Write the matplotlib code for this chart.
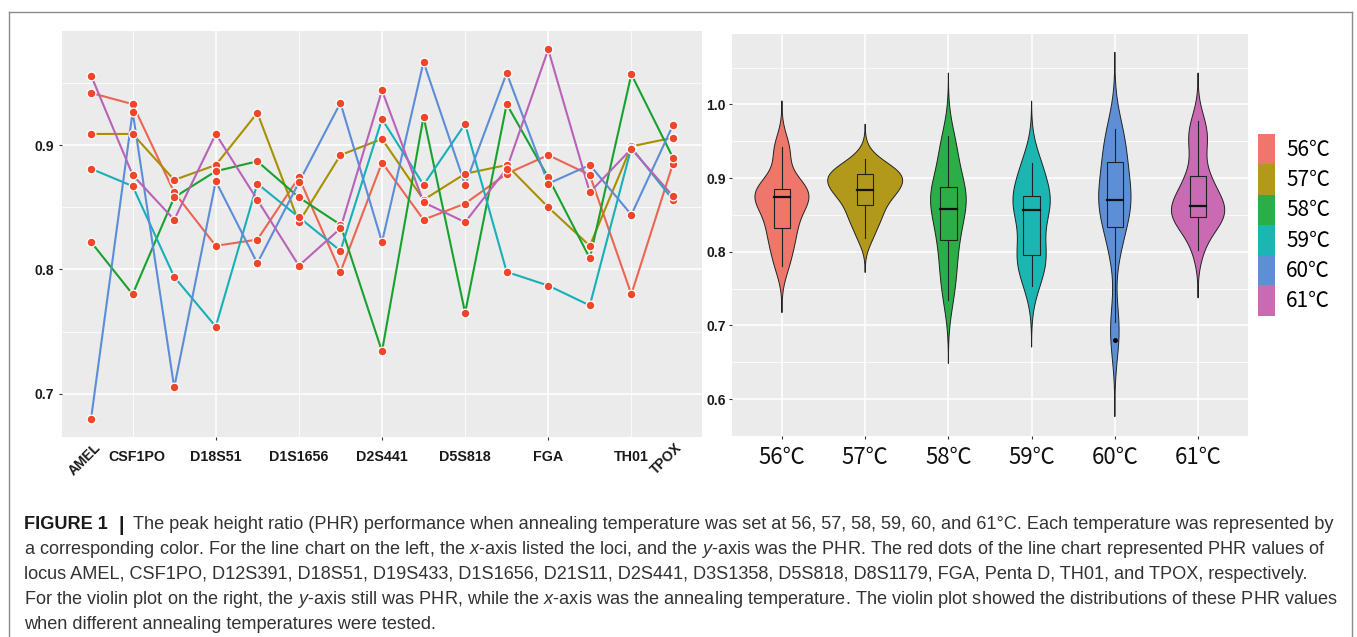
import numpy as np
import matplotlib
matplotlib.use("Agg")
import matplotlib.pyplot as plt
from matplotlib.patches import Patch, Polygon, Rectangle
from matplotlib.lines import Line2D
import matplotlib.transforms as mtransforms

plt.rcParams["font.family"] = ["Liberation Sans", "Noto Sans CJK SC", "DejaVu Sans"]
plt.rcParams["mathtext.fontset"] = "custom"
plt.rcParams["mathtext.it"] = "Liberation Sans:italic"
plt.rcParams["mathtext.rm"] = "Liberation Sans"

# ---------------- data ----------------
loci = ["AMEL", "CSF1PO", "D12S391", "D18S51", "D19S433", "D1S1656", "D21S11",
        "D2S441", "D3S1358", "D5S818", "D8S1179", "FGA", "Penta D", "TH01", "TPOX"]
shown_loci = ["AMEL", "CSF1PO", "D18S51", "D1S1656", "D2S441", "D5S818", "FGA", "TH01", "TPOX"]
rotated_loci = ["AMEL", "TPOX"]
temps = ["56℃", "57℃", "58℃", "59℃", "60℃", "61℃"]

phr_56 = [0.942, 0.933, 0.862, 0.819, 0.824, 0.874, 0.798, 0.886, 0.840, 0.853, 0.877, 0.892, 0.876, 0.780, 0.885]
phr_57 = [0.909, 0.909, 0.872, 0.884, 0.926, 0.838, 0.892, 0.905, 0.856, 0.877, 0.884, 0.850, 0.819, 0.899, 0.906]
phr_58 = [0.822, 0.780, 0.858, 0.879, 0.887, 0.858, 0.836, 0.734, 0.923, 0.765, 0.933, 0.874, 0.809, 0.957, 0.890]
phr_59 = [0.881, 0.867, 0.794, 0.754, 0.869, 0.842, 0.815, 0.921, 0.868, 0.917, 0.798, 0.787, 0.771, 0.898, 0.856]
phr_60 = [0.680, 0.927, 0.705, 0.871, 0.805, 0.870, 0.934, 0.822, 0.967, 0.868, 0.958, 0.869, 0.884, 0.844, 0.916]
phr_61 = [0.956, 0.876, 0.840, 0.909, 0.856, 0.803, 0.833, 0.944, 0.854, 0.838, 0.881, 0.977, 0.862, 0.897, 0.859]
series = [phr_56, phr_57, phr_58, phr_59, phr_60, phr_61]

line_colors = ["#EC6552", "#A99000", "#17A22E", "#17B0B8", "#5B8DD9", "#B862B8"]
fill_colors = ["#EF766B", "#B2981B", "#2BAE48", "#1CB6B2", "#5E8ED6", "#C96AB2"]
point_color = "#F0472A"
panel_bg = "#EBEBEB"
cjk = ["Noto Sans CJK SC", "Liberation Sans"]

W, H = 1357, 637
fig = plt.figure(figsize=(W / 100, H / 100), dpi=100)
fig.patch.set_facecolor("white")


def px_axes(x0, y0, x1, y1):
    return fig.add_axes([x0 / W, 1 - y1 / H, (x1 - x0) / W, (y1 - y0) / H])


def style_axes(ax):
    ax.set_facecolor(panel_bg)
    for s in ax.spines.values():
        s.set_visible(False)
    ax.tick_params(which="major", length=2.5, width=0.8, color="#333333",
                   labelsize=10, labelcolor="#1a1a1a")
    ax.tick_params(which="minor", length=0)
    ax.grid(which="major", color="white", lw=1.1)
    ax.grid(which="minor", color="white", lw=0.55)
    ax.set_axisbelow(True)


# ---------------- left line chart ----------------
axL = px_axes(62, 31, 702, 437)
style_axes(axL)
xpos = np.arange(1, len(loci) + 1)
for vals, c in zip(series, line_colors):
    axL.plot(xpos, vals, color=c, lw=1.5, zorder=2, solid_capstyle="round")
for vals in series:
    axL.plot(xpos, vals, ls="none", marker="o", ms=6.3, mfc=point_color,
             mec="white", mew=0.9, zorder=3)

allv = np.concatenate([np.array(s) for s in series])
lo, hi = allv.min(), allv.max()
pad = 0.05 * (hi - lo)
axL.set_ylim(lo - pad, hi + pad)
xpad = 0.05 * (len(loci) - 1)
axL.set_xlim(1 - xpad, len(loci) + xpad)
axL.set_yticks([0.7, 0.8, 0.9])
axL.set_yticklabels(["0.7", "0.8", "0.9"], fontweight="bold", fontsize=10)
axL.set_yticks([0.75, 0.85, 0.95], minor=True)
axL.set_xticks([4, 8, 12])
axL.set_xticklabels([])
axL.set_xticks([2, 6, 10, 14], minor=True)
axL.tick_params(axis="y", pad=3)

trans = mtransforms.blended_transform_factory(axL.transData, axL.transAxes)
for name in shown_loci:
    i = loci.index(name) + 1
    if name in rotated_loci:
        axL.text(i + 0.05, -0.008, name, transform=trans, rotation=45,
                 ha="right", va="top", rotation_mode="anchor",
                 fontsize=10, fontweight="bold", color="#1a1a1a")
    else:
        off = 0.1 if name == "CSF1PO" else 0.0
        axL.text(i + off, -0.05, name, transform=trans, ha="center", va="center",
                 fontsize=10.3, fontweight="bold", color="#1a1a1a")

# ---------------- right violin plot ----------------
axR = px_axes(732, 34, 1248, 436)
style_axes(axR)


def bw_nrd0(x):
    x = np.asarray(x)
    sd = np.std(x, ddof=1)
    q75, q25 = np.percentile(x, [75, 25])
    return 0.9 * min(sd, (q75 - q25) / 1.34) * len(x) ** -0.2


def kde(x, n=512):
    x = np.asarray(x)
    bw = bw_nrd0(x)
    grid = np.linspace(x.min() - 3 * bw, x.max() + 3 * bw, n)
    d = np.exp(-0.5 * ((grid[:, None] - x[None, :]) / bw) ** 2).sum(1)
    d /= len(x) * bw * np.sqrt(2 * np.pi)
    return grid, d


kdes = [kde(s) for s in series]
dmax = max(d.max() for _, d in kdes)
for k, ((g, d), fc) in enumerate(zip(kdes, fill_colors)):
    xc = k + 1
    half = 0.45 * d / dmax
    poly = np.column_stack([np.concatenate([xc - half, (xc + half)[::-1]]),
                            np.concatenate([g, g[::-1]])])
    axR.add_patch(Polygon(poly, closed=True, facecolor=fc, edgecolor="#222222",
                          lw=0.7, zorder=2))
    vals = np.asarray(series[k])
    q1, med, q3 = np.percentile(vals, [25, 50, 75])
    iqr = q3 - q1
    inside = vals[(vals >= q1 - 1.5 * iqr) & (vals <= q3 + 1.5 * iqr)]
    out = vals[(vals < q1 - 1.5 * iqr) | (vals > q3 + 1.5 * iqr)]
    bw = 0.2
    axR.plot([xc, xc], [inside.min(), q1], color="#222222", lw=0.8, zorder=3)
    axR.plot([xc, xc], [q3, inside.max()], color="#222222", lw=0.8, zorder=3)
    axR.add_patch(Rectangle((xc - bw / 2, q1), bw, q3 - q1, facecolor="none",
                            edgecolor="#222222", lw=0.8, zorder=3))
    axR.plot([xc - bw / 2, xc + bw / 2], [med, med], color="#111111", lw=1.6, zorder=4)
    if len(out):
        axR.plot(np.full(len(out), xc), out, ls="none", marker="o", ms=2.5,
                 color="black", zorder=4)

vlo = min(g.min() for g, _ in kdes)
vhi = max(g.max() for g, _ in kdes)
vpad = 0.05 * (vhi - vlo)
axR.set_ylim(vlo - vpad, vhi + vpad)
axR.set_xlim(0.4, len(temps) + 0.6)
axR.set_yticks([0.6, 0.7, 0.8, 0.9, 1.0])
axR.set_yticklabels(["0.6", "0.7", "0.8", "0.9", "1.0"], fontweight="bold", fontsize=10)
axR.set_yticks([0.55, 0.65, 0.75, 0.85, 0.95, 1.05], minor=True)
axR.set_xticks(np.arange(1, len(temps) + 1))
axR.set_xticklabels(temps, fontsize=16, color="#111111", family=cjk)
axR.tick_params(axis="x", pad=5)
axR.tick_params(axis="y", pad=2)

handles = [Patch(facecolor=c, edgecolor="none") for c in fill_colors]
fig.legend(handles, temps, loc="upper left",
           bbox_to_anchor=(1258 / W, 1 - 134 / H), frameon=False,
           prop={"family": cjk, "size": 15}, handlelength=0.8, handleheight=1.86,
           labelspacing=0.0, handletextpad=0.55, borderpad=0, borderaxespad=0)

# ---------------- outer border ----------------
bc = "#8a8a8a"
fig.add_artist(Line2D([9 / W, 1352 / W], [1 - 12 / H, 1 - 12 / H], color=bc, lw=1.0,
                      transform=fig.transFigure))
fig.add_artist(Line2D([9 / W, 9 / W], [0, 1 - 12 / H], color=bc, lw=1.0,
                      transform=fig.transFigure))
fig.add_artist(Line2D([1352 / W, 1352 / W], [0, 1 - 12 / H], color=bc, lw=1.0,
                      transform=fig.transFigure))

# ---------------- caption ----------------
cap_color = "#333333"
cap_fs = 13.1
fig.text(24 / W, 1 - 529 / H, "FIGURE 1", fontsize=cap_fs, fontweight="bold",
         color="#1a1a1a", va="baseline")
fig.text(119 / W, 1 - 531 / H, "|", fontsize=cap_fs + 1, fontweight="bold",
         color="#1a1a1a", va="baseline")
fig.text(133 / W, 1 - 529 / H,
         "The peak height ratio (PHR) performance when annealing temperature was set at 56, 57, 58, 59, 60, and 61°C. Each temperature was represented by",
         fontsize=cap_fs, color=cap_color, va="baseline")
cap_lines = [
    "a corresponding color. For the line chart on the left, the $x$-axis listed the loci, and the $y$-axis was the PHR. The red dots of the line chart represented PHR values of",
    "locus AMEL, CSF1PO, D12S391, D18S51, D19S433, D1S1656, D21S11, D2S441, D3S1358, D5S818, D8S1179, FGA, Penta D, TH01, and TPOX, respectively.",
    "For the violin plot on the right, the $y$-axis still was PHR, while the $x$-axis was the annealing temperature. The violin plot showed the distributions of these PHR values",
    "when different annealing temperatures were tested.",
]
for j, t in enumerate(cap_lines):
    fig.text(24 / W, 1 - (554 + 25 * j) / H, t, fontsize=cap_fs, color=cap_color,
             va="baseline")

fig.savefig("out.png", dpi=100)
